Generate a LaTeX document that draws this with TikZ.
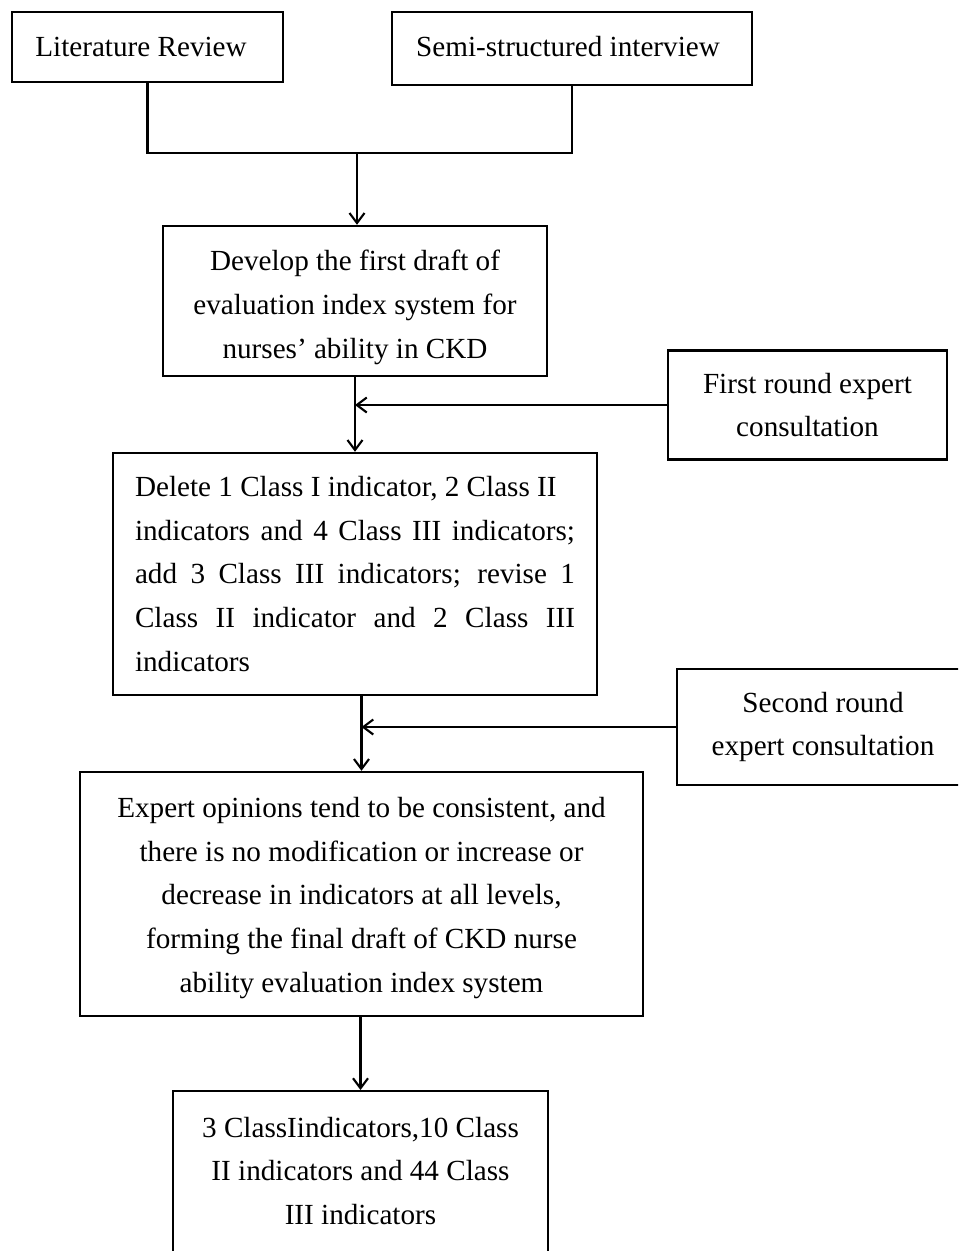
\documentclass[tikz,border=0pt]{standalone}
\usepackage{fontspec}
\setmainfont{Liberation Serif}
\usetikzlibrary{arrows.meta}
\newcommand\pw[1]{#1*0.02cm}
\begin{document}
\begin{tikzpicture}[x=0.02cm,y=-0.02cm,
  box/.style={draw, line width=1.4pt, inner sep=0pt, align=center,
    font=\fontsize{16.6pt}{25pt}\selectfont},
  frame/.style={draw, line width=1.4pt, inner sep=0pt},
  txt/.style={inner sep=0pt, align=center, font=\fontsize{16.6pt}{25pt}\selectfont},
  conn/.style={line width=1.2pt},
  arr/.style={conn, -{Straight Barb[length=0.2cm,width=0.3cm]}}
]
\useasboundingbox (0,0) rectangle (958,1251);
\clip (0,0) rectangle (958,1251);

\node[frame, minimum width=\pw{271}, minimum height=\pw{70}] (lr) at (147.5,47) {};
\node[txt] (lrt) at (141,47) {Literature Review};
\node[frame, minimum width=\pw{360}, minimum height=\pw{73}] (ssi) at (572,48.5) {};
\node[txt] (ssit) at (568,47) {Semi-structured interview};

\node[frame, minimum width=\pw{384}, minimum height=\pw{150}] (b1) at (355,301) {};
\node[txt] (b1t) at (355,307)
  {Develop the first draft of\\ evaluation index system for\\ nurses' ability in CKD};
\node[box, minimum width=\pw{279}, minimum height=\pw{109}] (fr) at (807.5,405)
  {First round expert\\ consultation};

\node[box, align=justify, text width=\pw{440}, minimum width=\pw{484}, minimum height=\pw{242}] (b2) at (355,574)
  {Delete 1 Class I indicator, 2 Class II\\
   indicators and 4 Class III indicators;\linebreak
   add 3 Class III indicators; revise 1\linebreak
   Class II indicator and 2 Class III\linebreak
   indicators};
\node[box, minimum width=\pw{292}, minimum height=\pw{116}] (sr) at (823,727)
  {Second round\\ expert consultation};

\node[frame, minimum width=\pw{563}, minimum height=\pw{244}] (b3) at (361.5,894) {};
\node[txt] (b3t) at (361.5,898)
  {Expert opinions tend to be consistent, and\\
   there is no modification or increase or\\
   decrease in indicators at all levels,\\
   forming the final draft of CKD nurse\\
   ability evaluation index system};

\node[frame, anchor=north, minimum width=\pw{375}, minimum height=\pw{200}] (b4) at (360.5,1090) {};
\node[txt] (b4t) at (360.5,1171)
  {3 ClassIindicators,10 Class\\ II indicators and 44 Class\\ III indicators};

\coordinate (jl) at (147.5,153);
\coordinate (jr) at (572,153);
\coordinate (jm) at (357,153);
\draw[conn] (lr.south) -- (jl) -- (jr) -- (ssi.south);
\draw[arr] (jm) -- (jm |- b1.north);
\draw[arr] (b1.south) -- (b2.north);
\draw[arr] (fr.west) -- (fr.west -| b1.south);
\draw[arr] (b2.south -| b3.north) -- (b3.north);
\draw[arr] (sr.west) -- (sr.west -| b3.north);
\draw[arr] (b3.south -| b4.north) -- (b4.north);
\end{tikzpicture}
\end{document}
